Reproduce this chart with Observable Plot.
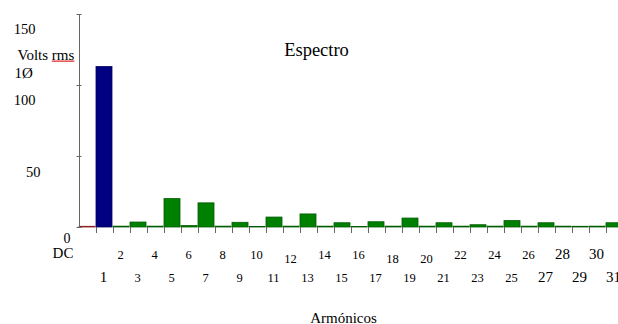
<!DOCTYPE html>
<html>
<head>
<meta charset="utf-8">
<script src="https://cdn.jsdelivr.net/npm/d3@7"></script>
<script src="https://cdn.jsdelivr.net/npm/@observablehq/plot@0.6"></script>
<style>
  html, body { margin: 0; padding: 0; background: #fff; }
</style>
</head>
<body>
<div id="chart"></div>
<script>
// Harmonic order (0 = DC) and RMS voltage of each component
const harmonics = [0, 1, 2, 3, 4, 5, 6, 7, 8, 9, 10, 11, 12, 13, 14, 15, 16, 17, 18, 19, 20, 21, 22, 23, 24, 25, 26, 27, 28, 29, 30, 31];
const voltsRms  = [0.5, 113, 0.6, 3.5, 0.6, 20, 1, 17, 0.6, 3.3, 0.3, 7, 0.6, 9.2, 0.6, 3, 0.3, 3.7, 0.6, 6.3, 0.6, 3, 0.6, 1.6, 0.6, 4.5, 0.6, 3, 0.6, 0.5, 0.6, 3];
const yTickValues = [0, 50, 100, 150];
const yTickLabelsWide = [100, 150];
const yTickLabelsNarrow = [50];
const title = "Espectro";
const yTitle = "Volts rms";
const fundamentalLabel = "1Ø";
const xTitle = "Armónicos";
const dcLabel = "DC";
const zeroLabel = "0";

const FONT = "Liberation Serif";
const data = harmonics.map((h, i) => ({h, v: voltsRms[i]}));
const colorOf = h => h === 0 ? "#b02020" : h === 1 ? "#000080" : "#008000";
const strokeOf = h => h === 0 ? "#902020" : h === 1 ? "#00005a" : "#005a00";
const xLabels = harmonics.filter(h => h >= 1);
const lowered = new Set([12, 18, 20]);
const bigFont = h => (h >= 27 || h === 1 ? 15 : 12.5);

const chart = Plot.plot({
  width: 618,
  height: 324,
  marginTop: 14,
  marginBottom: 97,
  marginLeft: 79,
  marginRight: -5,
  style: {background: "#fff", color: "#000", fontFamily: FONT},
  x: {type: "linear", domain: [0, harmonics.length], axis: null},
  y: {domain: [0, 150], axis: null},
  color: {type: "identity"},
  marks: [
    // bars
    Plot.rectY(data, {
      x1: "h", x2: d => d.h + 1, y: "v",
      fill: d => colorOf(d.h), stroke: d => strokeOf(d.h), strokeWidth: 0.8,
      insetRight: 1
    }),
    // y axis line and crossing ticks
    Plot.ruleX([0], {y1: 0, y2: 150, stroke: "#666", strokeWidth: 1}),
    Plot.axisY(yTickValues, {tickSize: 5, dx: 2.5, fill: "none", stroke: "#666", label: null}),
    Plot.axisY(yTickLabelsWide, {tickSize: 0, tickPadding: 44, dy: 15, fontSize: 14.5, fontFamily: FONT, label: null}),
    Plot.axisY(yTickLabelsNarrow, {tickSize: 0, tickPadding: 39, dy: 16, fontSize: 14.5, fontFamily: FONT, label: null}),
    // x ticks at harmonic boundaries
    Plot.axisX(xLabels, {anchor: "bottom", tickSize: 6, fill: "none", stroke: "#666", label: null}),
    // x tick labels
    Plot.text(xLabels.filter(h => h % 2 === 0 && !lowered.has(h)), {
      x: h => h + 0.5, frameAnchor: "bottom", dy: 31, dx: -1.5, text: h => String(h), fontSize: bigFont, fontFamily: FONT
    }),
    Plot.text(xLabels.filter(h => lowered.has(h)), {
      x: h => h + 0.5, frameAnchor: "bottom", dy: 35, dx: -1.5, text: h => String(h), fontSize: bigFont, fontFamily: FONT
    }),
    Plot.text(xLabels.filter(h => h % 2 === 1), {
      x: h => h + 0.5, frameAnchor: "bottom", dy: 54, dx: -1.5, text: h => String(h), fontSize: bigFont, fontFamily: FONT
    }),
    // "0" and "DC"
    Plot.text([zeroLabel], {frameAnchor: "bottom-left", dx: -12.5, dy: 15, fontSize: 14, fontFamily: FONT, textAnchor: "middle"}),
    Plot.text([dcLabel], {frameAnchor: "bottom-left", dx: -16.5, dy: 30, fontSize: 15, fontFamily: FONT, textAnchor: "middle"}),
    // y title and fundamental label
    Plot.text([yTitle], {frameAnchor: "top-left", dx: -62, dy: 35, fontSize: 15, fontFamily: FONT, textAnchor: "start"}),
    Plot.text([fundamentalLabel], {frameAnchor: "top-left", dx: -65, dy: 53, fontSize: 15, fontFamily: FONT, textAnchor: "start"}),
    // title
    Plot.text([title], {frameAnchor: "top-left", dx: 237, dy: 28, fontSize: 18.5, fontFamily: FONT, textAnchor: "middle"}),
    // x title
    Plot.text([xTitle], {frameAnchor: "bottom-left", dx: 264, dy: 95, fontSize: 15, fontFamily: FONT, textAnchor: "middle"})
  ]
});
document.getElementById("chart").appendChild(chart);

// spell-check style red underline under "rms"
const svg = d3.select(chart);
const yt = svg.selectAll("text").filter(function() { return this.textContent === yTitle; }).node();
if (yt) {
  const sb = chart.getBoundingClientRect();
  const n = yt.getNumberOfChars();
  const start = yt.getExtentOfChar(6); // "r" of "rms"
  const end = yt.getExtentOfChar(n - 1);
  const ctm = yt.getCTM();
  const p1 = new DOMPoint(start.x, start.y + start.height).matrixTransform(ctm);
  const p2 = new DOMPoint(end.x + end.width, end.y + end.height).matrixTransform(ctm);
  svg.append("line")
    .attr("x1", p1.x - sb.left).attr("x2", p2.x - sb.left)
    .attr("y1", p1.y - sb.top - 2).attr("y2", p2.y - sb.top - 2)
    .attr("stroke", "#e02020").attr("stroke-width", 1.2);
}
</script>
</body>
</html>
